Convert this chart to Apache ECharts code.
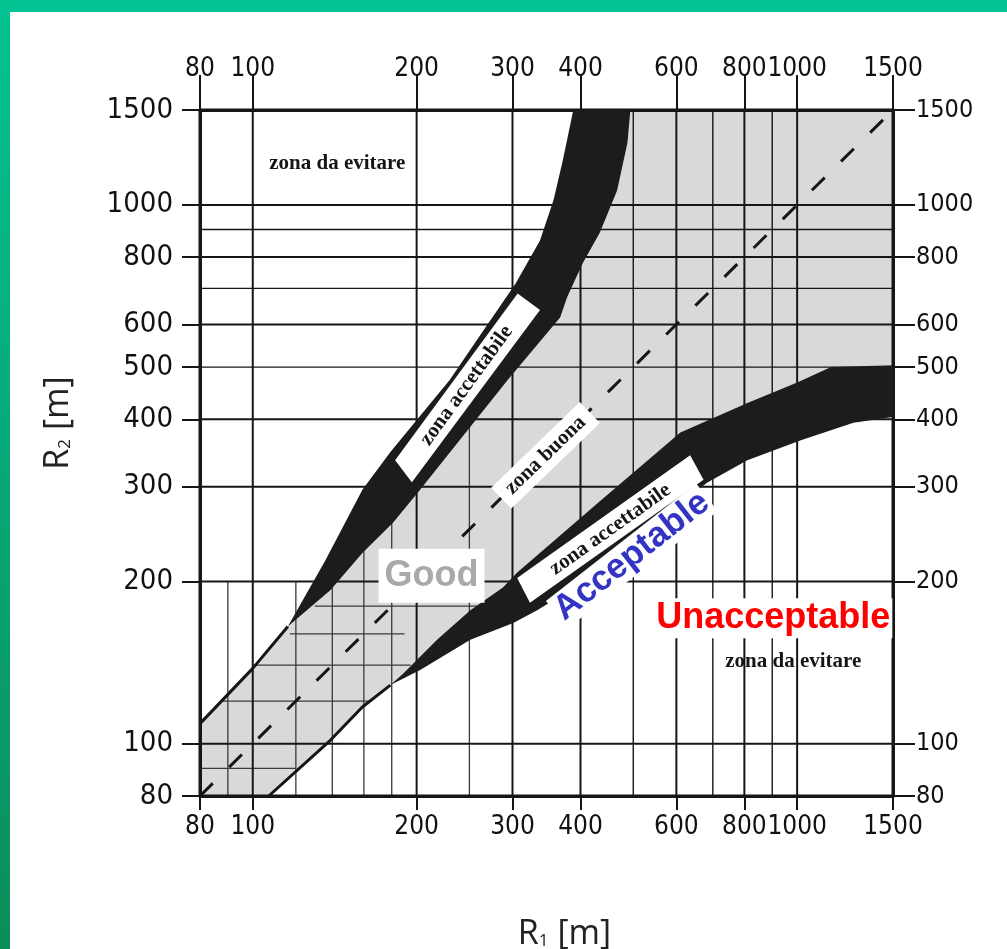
<!DOCTYPE html>
<html>
<head>
<meta charset="utf-8">
<title>R1 - R2</title>
<script src="https://cdn.jsdelivr.net/npm/echarts@6/dist/echarts.min.js"></script>
<style>
  html, body { margin: 0; padding: 0; background: #fff; }
  #main { width: 1007px; height: 949px; }
</style>
</head>
<body>
<div id="main"></div>
<script>
// tick labels
var xTicks = [80, 100, 200, 300, 400, 600, 800, 1000, 1500];
var yTicks = [80, 100, 200, 300, 400, 500, 600, 800, 1000, 1500];

// full grid lines
var gridX = [80, 100, 200, 300, 400, 500, 600, 700, 800, 900, 1000, 1500];
var gridY = [80, 100, 200, 300, 400, 500, 600, 700, 800, 900, 1000, 1500];
// short grid lines: [value, from, to]
var minorX = [[90, 80, 200], [120, 80, 200], [140, 80, 200], [160, 80, 250], [180, 80, 280], [250, 80, 450]];
var minorY = [[90, 80, 120], [120, 88, 165], [140, 100, 195], [160, 117, 190], [180, 130, 300]];

// upper band (R1, R2)
var upperLine = [[80, 109], [100, 138], [116, 165]];
var upperOuter = [[116, 165], [136, 219], [159, 296], [179, 348], [230, 473], [262, 574], [304, 715], [337, 859], [357, 1022], [371, 1208], [388, 1500]];
var upperInner = [[116, 165], [139, 193], [159, 226], [181, 257], [203, 296], [294, 473], [367, 618], [378, 674], [404, 780], [434, 888], [467, 1063], [488, 1305], [494, 1500]];
var upperBox = [[182.6, 336], [196, 305.6], [337, 638], [306.6, 685]];

// lower band (R1, R2)
var lowerLine = [[107, 80], [139, 101.6], [159, 117], [179, 128.5]];
var lowerUpper = [[179, 128.5], [189, 135], [218, 156], [251, 177], [288, 195], [306, 208], [434, 282], [610, 378], [810, 429], [1000, 468], [1154, 500], [1500, 504]];
var lowerLower = [[179, 128.5], [203, 137], [251, 156], [301, 167.5], [333, 177], [383, 193], [683, 305], [810, 336], [1016, 366], [1269, 394], [1500, 404]];
var lowerBox = [[306, 203], [323, 182.6], [673, 309], [636, 343]];

// R1 = R2
var diagonal = [[80, 80], [1500, 1500]];

// notes
var noteText = ['zona da evitare', 'zona da evitare', 'zona accettabile', 'zona buona', 'zona accettabile', 'Good', 'Acceptable', 'Unacceptable'];
var noteR1 = [143, 984, 247, 345, 454, 213, 497, 904];
var noteR2 = [1195, 142, 462, 343, 250, 205, 223, 171];

var ink = '#161616';
var serif = "'Liberation Serif', 'DejaVu Serif', serif";
var sans = "'Liberation Sans', Arial, sans-serif";
var tickFont = "'DejaVu Sans Condensed', 'Liberation Sans', sans-serif";
var titleFont = "'Open Sans', sans-serif";

var noteStyles = [
    {font: 'bold 21px ' + serif, fill: ink, rot: 0},
    {font: 'bold 21px ' + serif, fill: ink, rot: 0},
    {font: 'bold 21px ' + serif, fill: ink, rot: 54},
    {font: 'bold 21px ' + serif, fill: ink, rot: 44, bg: '#fff', pad: [4, 10]},
    {font: 'bold 21px ' + serif, fill: ink, rot: 35.4},
    {font: 'bold 36px ' + sans, fill: '#a9a9a9', rot: 0, bg: '#fff', pad: [9, 6]},
    {font: 'bold 35px ' + sans, fill: '#3434c4', rot: 38, bg: '#fff', pad: [0, 2]},
    {font: 'bold 36px ' + sans, fill: '#ff0000', rot: 0, bg: '#fff', pad: [2, 2]}
];

var grayZone = [[80, 80]].concat(lowerLine, lowerUpper.slice(1), [[1500, 1500]],
    upperInner.slice().reverse(), upperLine.slice(0, -1).reverse());
var upperBand = upperOuter.concat(upperInner.slice(1).reverse());
var lowerBand = lowerUpper.concat(lowerLower.slice(1).reverse());

var majorSeg = [];
gridX.forEach(function (v) { majorSeg.push([v, 80, v, 1500]); });
gridY.forEach(function (v) { majorSeg.push([80, v, 1500, v]); });
var minorSeg = [];
minorX.forEach(function (m) { minorSeg.push([m[0], m[1], m[0], m[2]]); });
minorY.forEach(function (m) { minorSeg.push([m[1], m[0], m[2], m[0]]); });

function polygonSeries(points, style, z) {
    return {
        type: 'custom', silent: true, data: points, z: z,
        encode: {x: 0, y: 1},
        renderItem: function (params, api) {
            if (params.dataIndex !== 0) return;
            return {
                type: 'polygon',
                shape: {points: points.map(function (p) { return api.coord(p); })},
                style: style
            };
        }
    };
}

function segmentSeries(segs, styleFn) {
    return {
        type: 'custom', silent: true, data: segs, z: 2,
        encode: {x: [0, 2], y: [1, 3]},
        renderItem: function (params, api) {
            var a = api.coord([api.value(0), api.value(1)]);
            var b = api.coord([api.value(2), api.value(3)]);
            return {
                type: 'line',
                shape: {x1: a[0], y1: a[1], x2: b[0], y2: b[1]},
                style: styleFn(segs[params.dataIndex])
            };
        }
    };
}

function thinLine(points) {
    return {
        type: 'line', data: points, symbol: 'none', silent: true, z: 4,
        lineStyle: {color: ink, width: 3}
    };
}

function logAxis(position, ticks, tickLen, margin, fontSize) {
    return {
        type: 'log', logBase: 10, min: 80, max: 1500, position: position,
        axisLine: {show: true, lineStyle: {color: ink, width: 3}},
        axisTick: {show: true, customValues: ticks, length: tickLen, lineStyle: {color: ink, width: 2}},
        axisLabel: {
            customValues: ticks, margin: margin, color: '#111',
            fontSize: fontSize, fontFamily: tickFont,
            formatter: function (v) { return String(Math.round(v)); }
        },
        splitLine: {show: false},
        minorTick: {show: false},
        minorSplitLine: {show: false}
    };
}

function titleRich() {
    return {
        r: {fontFamily: titleFont, fontSize: 34, color: '#222', lineHeight: 40},
        s: {fontFamily: titleFont, fontSize: 17, color: '#222', lineHeight: 40, padding: [14, 0, 0, 0]}
    };
}

var xBottom = logAxis('bottom', xTicks, 14, 18, 26);
xBottom.name = '{r|R}{s|1}{r| [m]}';
xBottom.nameLocation = 'middle';
xBottom.nameGap = 118;
xBottom.nameTextStyle = {padding: [0, 0, 0, 36], rich: titleRich()};

var xTop = logAxis('top', xTicks, 35, 28, 26);

var yLeft = logAxis('left', yTicks, 18, 27, 29);
yLeft.name = '{r|R}{s|2}{r| [m]}';
yLeft.nameLocation = 'middle';
yLeft.nameGap = 122;
yLeft.nameTextStyle = {padding: [0, 0, 0, 60], rich: titleRich()};

var yRight = logAxis('right', yTicks, 22, 23, 25);

var myChart = echarts.init(document.getElementById('main'));

var option = {
    animation: false,
    backgroundColor: '#fff',
    graphic: [
        {type: 'rect', shape: {x: 0, y: 0, width: 1007, height: 12}, style: {fill: '#02c391'}, silent: true},
        {
            type: 'rect', shape: {x: 0, y: 0, width: 10, height: 949}, silent: true,
            style: {fill: new echarts.graphic.LinearGradient(0, 0, 0, 1, [
                {offset: 0, color: '#02c391'},
                {offset: 1, color: '#0b8d5b'}
            ])}
        }
    ],
    grid: {left: 200, right: 114, top: 110, bottom: 153, outerBoundsMode: 'none'},
    xAxis: [xBottom, xTop],
    yAxis: [yLeft, yRight],
    series: [
        // zona buona
        polygonSeries(grayZone, {fill: 'rgba(0,0,0,0.15)'}, 1),
        segmentSeries(minorSeg, function () { return {stroke: '#3a3a3a', lineWidth: 1.3}; }),
        segmentSeries(majorSeg, function (s) {
            var v = s[0] === s[2] ? s[0] : s[1];
            var w = (v === 80 || v === 1500) ? 3 : (v === 500 || v === 700 || v === 900 ? 1.4 : 2);
            return {stroke: ink, lineWidth: w};
        }),
        {
            type: 'line', data: diagonal, symbol: 'none', silent: true, z: 3,
            lineStyle: {color: ink, width: 3, type: [18, 23]}
        },
        // zone accettabili
        polygonSeries(upperBand, {fill: '#1c1c1c'}, 4),
        polygonSeries(lowerBand, {fill: '#1c1c1c'}, 4),
        thinLine(upperLine),
        thinLine(lowerLine),
        polygonSeries(upperBox, {fill: '#fff'}, 5),
        polygonSeries(lowerBox, {fill: '#fff'}, 5),
        {
            type: 'custom', silent: true, z: 10,
            data: noteR1.map(function (v, i) { return [v, noteR2[i]]; }),
            encode: {x: 0, y: 1},
            renderItem: function (params, api) {
                var i = params.dataIndex;
                var st = noteStyles[i];
                var p = api.coord([api.value(0), api.value(1)]);
                var style = {
                    text: noteText[i], font: st.font, fill: st.fill,
                    align: 'center', verticalAlign: 'middle'
                };
                if (st.bg) {
                    style.backgroundColor = st.bg;
                    style.padding = st.pad;
                }
                return {
                    type: 'text', x: p[0], y: p[1],
                    rotation: st.rot * Math.PI / 180,
                    style: style
                };
            }
        }
    ]
};

myChart.setOption(option);
</script>
</body>
</html>
